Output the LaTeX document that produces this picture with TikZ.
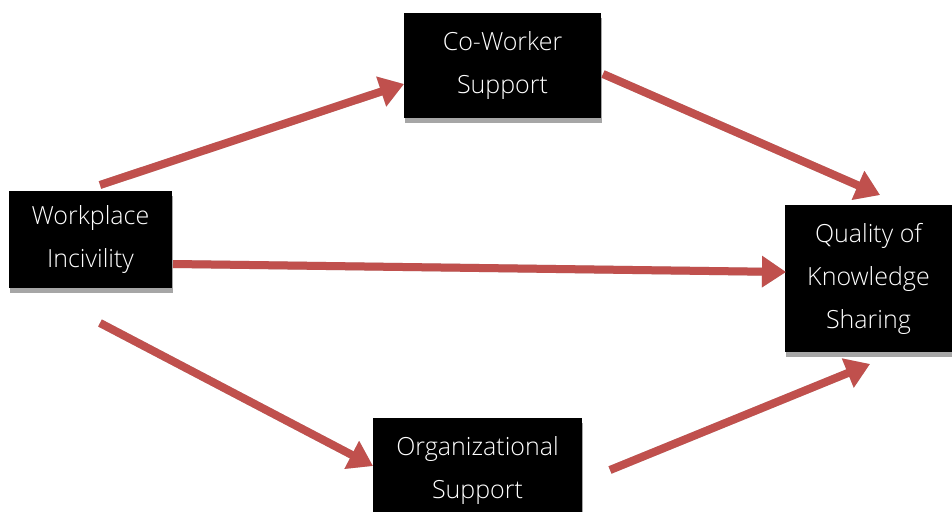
\documentclass[tikz,border=0pt]{standalone}
\usepackage{fontspec}
\setmainfont{Open Sans Light}
\usetikzlibrary{arrows.meta,shadows}
\definecolor{arrred}{HTML}{C0504D}
\begin{document}
\begin{tikzpicture}[x=1pt,y=-1pt,>={Triangle[length=24pt,width=30pt]}]
	\tikzset{box/.style={fill=black,text=white,align=center,inner sep=0pt,
			font=\fontsize{25}{43}\selectfont,
			drop shadow={shadow xshift=1pt,shadow yshift=-5pt,fill=black!35,opacity=1}},
		link/.style={->,arrred,line width=8pt},
		linkshadow/.style={->,black!40,line width=8pt,opacity=0.5,shift={(2,4)}}
	}
	\useasboundingbox (0,0) rectangle (952,511);
	\node[box,minimum width=163pt,minimum height=97pt] (wi) at (90.5,239.5) {Workplace\\Incivility};
	\node[box,minimum width=197pt,minimum height=105pt] (cw) at (502.5,65.5) {Co-Worker\\Support};
	\node[box,minimum width=167pt,minimum height=147pt] (qk) at (868.5,278.5) {Quality of\\Knowledge\\Sharing};
	\node[box,minimum width=209pt,minimum height=104pt] (os) at (477.5,470) {Organizational\\Support};
	% arrow ends
	\coordinate (a1) at (100,185); \coordinate (b1) at (404,84);
	\coordinate (a2) at (603,74);  \coordinate (b2) at (880,195);
	\coordinate (a3) at (173,264); \coordinate (b3) at (786,272);
	\coordinate (a4) at (100,323); \coordinate (b4) at (373,466);
	\coordinate (a5) at (610,470); \coordinate (b5) at (870,364);
	\foreach \i in {1,...,5}{
		\draw[linkshadow] (a\i) -- (b\i);
	}
	\foreach \i in {1,...,5}{
		\draw[link] (a\i) -- (b\i);
	}
\end{tikzpicture}
\end{document}
